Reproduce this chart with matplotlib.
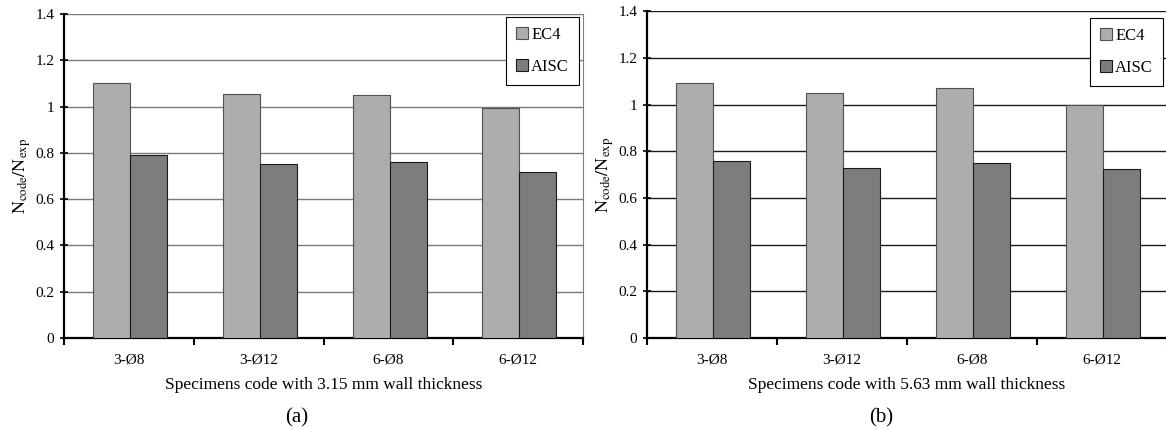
import numpy as np
import matplotlib
matplotlib.use("Agg")
import matplotlib.pyplot as plt
from matplotlib.patches import Patch

plt.rcParams['font.family'] = ['Liberation Serif', 'DejaVu Serif']
plt.rcParams['mathtext.fontset'] = 'stix'

# Data
categories = ['3-Ø8', '3-Ø12', '6-Ø8', '6-Ø12']
ec4_a = [1.104, 1.055, 1.050, 0.993]
aisc_a = [0.790, 0.753, 0.760, 0.717]
ec4_b = [1.093, 1.050, 1.070, 0.996]
aisc_b = [0.758, 0.728, 0.750, 0.722]
yticks = [0, 0.2, 0.4, 0.6, 0.8, 1.0, 1.2, 1.4]
ytick_labels = ['0', '0.2', '0.4', '0.6', '0.8', '1', '1.2', '1.4']

EC4_COLOR = '#adadad'
AISC_COLOR = '#7d7d7d'


def draw_panel(ax, ec4, aisc, xlabel, grid_color, legend_anchor):
    x = np.arange(len(categories))
    w = 0.285
    ax.bar(x - w / 2 + 0.01, ec4, w, color=EC4_COLOR, edgecolor='#505050', linewidth=0.8, zorder=3)
    ax.bar(x + w / 2 + 0.01, aisc, w, color=AISC_COLOR, edgecolor='#1a1a1a', linewidth=0.8, zorder=3)

    ax.set_ylim(0, 1.4)
    ax.set_xlim(-0.5, len(categories) - 0.5)
    ax.set_yticks(yticks)
    ax.set_yticklabels(ytick_labels, fontsize=11)
    for yv in yticks[1:]:
        ax.axhline(yv, color=grid_color, linewidth=1.0, zorder=1)

    # category labels at centres, tick marks at boundaries
    ax.set_xticks(np.arange(-0.5, len(categories), 1.0))
    ax.set_xticklabels([])
    ax.set_xticks(x, minor=True)
    ax.set_xticklabels(categories, minor=True, fontsize=11)
    ax.tick_params(axis='x', which='minor', length=0, pad=11)
    ax.tick_params(axis='x', which='major', length=5, width=1.5, direction='out')
    ax.tick_params(axis='y', length=6, width=1.2, direction='inout', pad=4)

    ax.spines['left'].set_linewidth(1.6)
    ax.spines['bottom'].set_linewidth(1.6)
    ax.spines['top'].set_visible(False)
    ax.spines['right'].set_color('#808080')
    ax.spines['right'].set_linewidth(0.8)

    ax.set_xlabel(xlabel, fontsize=12.5, labelpad=8)
    ax.set_ylabel(r'$\mathrm{N_{code}/N_{exp}}$', fontsize=13, labelpad=2)

    handles = [Patch(facecolor=EC4_COLOR, edgecolor='#505050', linewidth=0.8),
               Patch(facecolor=AISC_COLOR, edgecolor='#1a1a1a', linewidth=0.8)]
    leg = ax.legend(handles, ['EC4', 'AISC'], loc='upper right', bbox_to_anchor=legend_anchor,
                    borderaxespad=0, fontsize=12, handlelength=0.7, handleheight=0.7,
                    handletextpad=0.2, labelspacing=0.95, fancybox=False, framealpha=1,
                    edgecolor='black', borderpad=0.6)
    leg.get_frame().set_linewidth(0.8)
    leg.set_zorder(5)


fig = plt.figure(figsize=(11.66, 4.30), dpi=100)
ax_a = fig.add_axes([0.0549, 0.214, 0.4451, 0.753])
ax_b = fig.add_axes([0.5549, 0.214, 0.446, 0.760])

draw_panel(ax_a, ec4_a, aisc_a, 'Specimens code with 3.15 mm wall thickness', '#7a7a7a', (0.992, 0.991))
draw_panel(ax_b, ec4_b, aisc_b, 'Specimens code with 5.63 mm wall thickness', '#1a1a1a', (0.992, 0.98))

fig.text(297 / 1166, 1 - 418 / 430, '(a)', ha='center', va='center', fontsize=15)
fig.text(881 / 1166, 1 - 418 / 430, '(b)', ha='center', va='center', fontsize=15)

fig.savefig('out.png', dpi=100, facecolor='white')
